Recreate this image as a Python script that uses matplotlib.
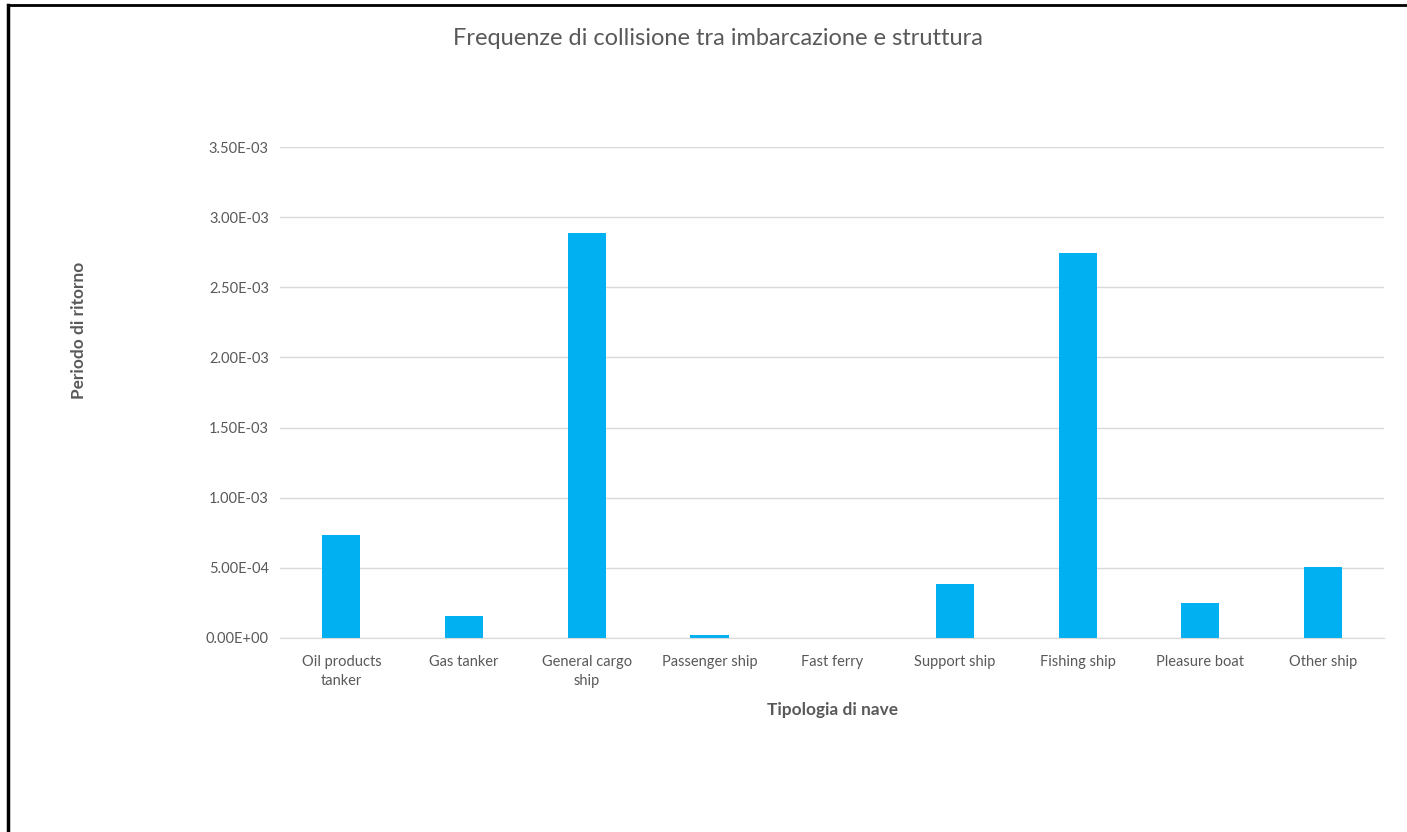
import matplotlib.pyplot as plt
from matplotlib.lines import Line2D
from matplotlib.ticker import FuncFormatter
import numpy as np

categories = ["Oil products\ntanker", "Gas tanker", "General cargo\nship", "Passenger ship",
              "Fast ferry", "Support ship", "Fishing ship", "Pleasure boat", "Other ship"]
frequencies = [7.37e-4, 1.57e-4, 2.887e-3, 2.0e-5, 0.0, 3.85e-4, 2.742e-3, 2.47e-4, 5.05e-4]
y_ticks = np.arange(0, 3.51e-3, 5e-4)

plt.rcParams['font.family'] = ['Lato', 'DejaVu Sans']
grey = '#595959'

fig = plt.figure(figsize=(14.07, 8.32), dpi=100)
ax = fig.add_axes([0.199, 0.2332, 0.785, 0.590])

x = np.arange(len(categories))
ax.bar(x, frequencies, width=0.31, color='#00B0F0', zorder=3)

ax.set_xlim(-0.5, len(categories) - 0.5)
ax.set_ylim(0, 3.5e-3)
ax.set_yticks(y_ticks)
ax.yaxis.set_major_formatter(FuncFormatter(lambda v, p: f"{v:.2E}"))
ax.set_xticks(x)
ax.set_xticklabels(categories, linespacing=1.5)
ax.tick_params(axis='both', length=0, colors=grey, labelsize=10.5)
ax.tick_params(axis='x', pad=12)
ax.tick_params(axis='y', pad=8)
ax.grid(axis='y', color='#D9D9D9', linewidth=1, zorder=0)
for s in ['top', 'right', 'left']:
    ax.spines[s].set_visible(False)
ax.spines['bottom'].set_color('#D9D9D9')
ax.spines['bottom'].set_zorder(4)

ax.set_xlabel("Tipologia di nave", fontsize=12.4, fontweight='bold', color=grey, labelpad=10)
fig.text(0.056, 0.603, "Periodo di ritorno", rotation=90, fontsize=12.4, fontweight='bold',
         color=grey, ha='center', va='center')
fig.text(0.51, 0.954, "Frequenze di collisione tra imbarcazione e struttura",
         fontsize=17, color=grey, ha='center', va='center')

# frame lines along top and left edge
fig.add_artist(Line2D([0.006, 1.0], [0.994, 0.994], color='black', linewidth=2))
fig.add_artist(Line2D([0.006, 0.006], [0.0, 0.994], color='black', linewidth=2.5))

fig.savefig('out.png', dpi=100)
